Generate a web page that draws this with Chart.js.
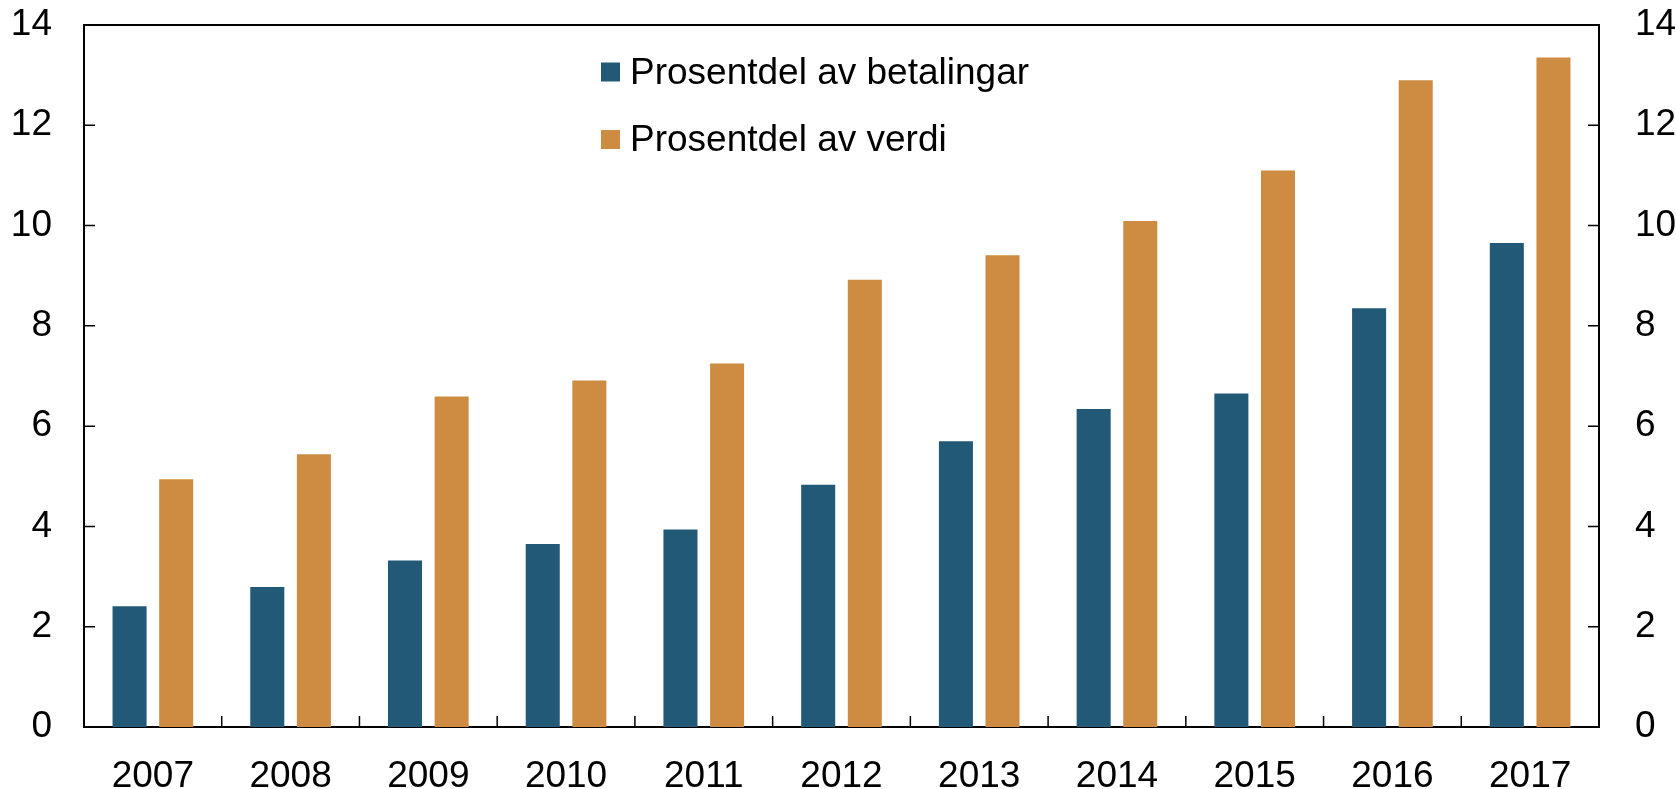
<!DOCTYPE html>
<html>
<head>
<meta charset="utf-8">
<script src="https://cdn.jsdelivr.net/npm/chart.js@4/dist/chart.umd.min.js"></script>
<style>
  html, body { margin: 0; padding: 0; background: #fff; }
  #wrap { width: 1676px; height: 789px; }
</style>
</head>
<body>
<div id="wrap"><canvas id="c" width="1676" height="789"></canvas></div>
<script>
const categories = ['2007','2008','2009','2010','2011','2012','2013','2014','2015','2016','2017'];
const betalingar = [2.41, 2.79, 3.32, 3.65, 3.94, 4.83, 5.70, 6.34, 6.65, 8.35, 9.65];
const verdi = [4.94, 5.44, 6.59, 6.91, 7.25, 8.92, 9.41, 10.09, 11.10, 12.90, 13.35];
const seriesNames = ['Prosentdel av betalingar', 'Prosentdel av verdi'];
const yTicks = [0, 2, 4, 6, 8, 10, 12, 14];

const BLUE = '#225977';
const ORANGE = '#CE8C42';
const FONT = "'Liberation Sans', Arial, sans-serif";

Chart.defaults.font.family = FONT;
Chart.defaults.font.size = 37;
Chart.defaults.color = '#000';

const framePlugin = {
  id: 'frame',
  afterDraw(chart) {
    const { ctx, chartArea: a, scales } = chart;
    ctx.save();
    ctx.strokeStyle = '#000';
    ctx.lineWidth = 2;
    ctx.beginPath();
    ctx.moveTo(a.left, a.top);
    ctx.lineTo(a.right, a.top);
    ctx.stroke();
    ctx.lineWidth = 1.5;
    const tl = 11;
    yTicks.forEach(v => {
      const y = scales.y.getPixelForValue(v);
      ctx.beginPath();
      ctx.moveTo(a.left, y); ctx.lineTo(a.left + tl, y);
      ctx.moveTo(a.right, y); ctx.lineTo(a.right - tl, y);
      ctx.stroke();
    });
    const xs = scales.x;
    for (let i = 0; i < categories.length - 1; i++) {
      const x = (xs.getPixelForValue(i) + xs.getPixelForValue(i + 1)) / 2;
      ctx.beginPath();
      ctx.moveTo(x, a.bottom); ctx.lineTo(x, a.bottom - tl);
      ctx.stroke();
    }
    const colors = [BLUE, ORANGE];
    const lx = a.left + 517;
    const rows = [a.top + 47, a.top + 114.5];
    ctx.font = "37px " + FONT;
    ctx.textBaseline = 'alphabetic';
    ctx.textAlign = 'left';
    seriesNames.forEach((name, i) => {
      const cy = rows[i];
      ctx.fillStyle = colors[i];
      ctx.fillRect(lx, cy - 9.5, 19, 19);
      ctx.fillStyle = '#000';
      ctx.fillText(name, lx + 29, cy + 11.5);
    });
    ctx.restore();
  }
};

function fitV(w) {
  return function (s) { s.width = w; s.paddingTop = 0; s.paddingBottom = 0; };
}

new Chart(document.getElementById('c'), {
  type: 'bar',
  data: {
    labels: categories,
    datasets: [
      { label: seriesNames[0], data: betalingar, backgroundColor: BLUE, yAxisID: 'y',
        categoryPercentage: 0.677, barPercentage: 0.73 },
      { label: seriesNames[1], data: verdi, backgroundColor: ORANGE, yAxisID: 'y',
        categoryPercentage: 0.677, barPercentage: 0.73 }
    ]
  },
  options: {
    responsive: false,
    animation: false,
    layout: { padding: { top: 25, left: 0, right: 0, bottom: 0 } },
    plugins: { legend: { display: false }, tooltip: { enabled: false } },
    scales: {
      x: {
        position: 'bottom',
        grid: { display: false, drawTicks: false },
        border: { display: true, color: '#000', width: 2 },
        ticks: { padding: 28, color: '#000', maxRotation: 0, autoSkip: false },
        afterFit(s) { s.height = 62; s.paddingLeft = 0; s.paddingRight = 0; }
      },
      y: {
        position: 'left',
        min: 0, max: 14,
        grid: { display: false, drawTicks: false },
        border: { display: true, color: '#000', width: 2 },
        ticks: { stepSize: 2, padding: 32, color: '#000' },
        afterFit: fitV(84)
      },
      y2: {
        position: 'right',
        min: 0, max: 14,
        grid: { display: false, drawTicks: false },
        border: { display: true, color: '#000', width: 2 },
        ticks: { stepSize: 2, padding: 36, color: '#000' },
        afterFit: fitV(77)
      }
    }
  },
  plugins: [framePlugin]
});
</script>
</body>
</html>
